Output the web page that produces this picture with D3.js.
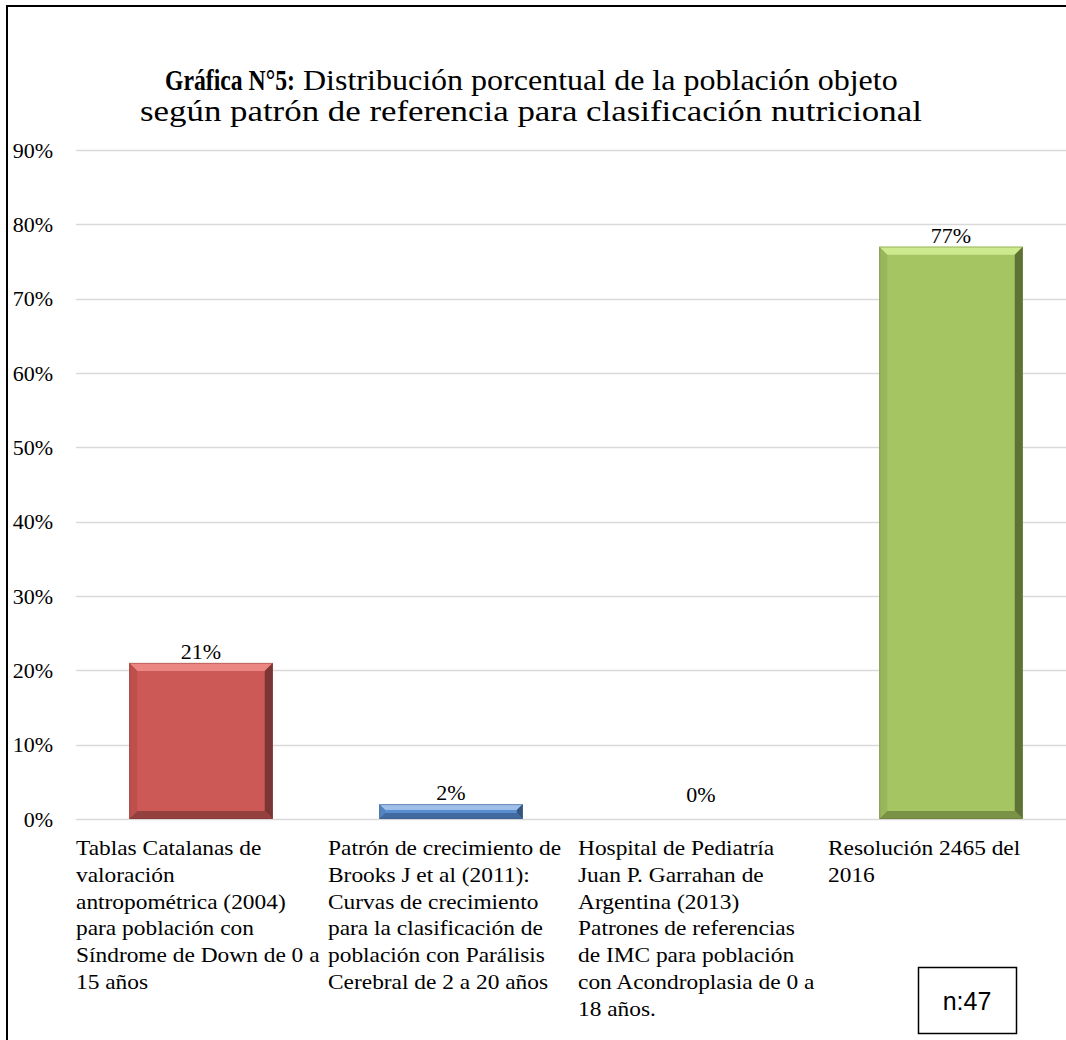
<!DOCTYPE html>
<html><head><meta charset="utf-8">
<script src="https://cdn.jsdelivr.net/npm/d3@7"></script>
<style>body{margin:0;background:#fff}svg{display:block}</style>
</head><body>
<script>
const categories = [
  ["Tablas Catalanas de","valoración","antropométrica (2004)","para población con","Síndrome de Down de 0 a","15 años"],
  ["Patrón de crecimiento de","Brooks J et al (2011):","Curvas de crecimiento","para la clasificación de","población con Parálisis","Cerebral de 2 a 20 años"],
  ["Hospital de Pediatría","Juan P. Garrahan de","Argentina (2013)","Patrones de referencias","de IMC para población","con Acondroplasia de 0 a","18 años."],
  ["Resolución 2465 del","2016"]
];
const values = [21, 2, 0, 77];
const yTicks = [0,10,20,30,40,50,60,70,80,90];
const titleBold = "Gráfica N°5:";
const titleRest = "Distribución porcentual de la población objeto";
const titleLine2 = "según patrón de referencia para clasificación nutricional";
const sampleNote = "n:47";

const barColors = [
  {face:"#CD5956", top:"#EC8683", left:"#BD504D", right:"#7A3634", bottom:"#94403E"},
  {face:"#5A8ED0", top:"#9DBFE8", left:"#5284C2", right:"#34557F", bottom:"#416A9E"},
  {face:"#A0A0A0", top:"#C0C0C0", left:"#909090", right:"#606060", bottom:"#707070"},
  {face:"#A5C563", top:"#CDEB8E", left:"#98B65B", right:"#5F7236", bottom:"#7A9245"}
];

const W = 1066, H = 1040;
const svg = d3.select("body").append("svg").attr("width", W).attr("height", H);
const serif = "'Liberation Serif','Times New Roman',serif";

// outer frame
svg.append("path").attr("d", `M7,${H} L7,6 L${W},6`).attr("fill","none").attr("stroke","#000").attr("stroke-width",2);

const x = d3.scaleBand().domain(d3.range(categories.length)).range([76, 1076]).paddingInner(0.426).paddingOuter(0.213);
const y = d3.scaleLinear().domain([0, 90]).range([819, 150]);

// gridlines
svg.append("g").selectAll("line").data(yTicks).join("line")
  .attr("x1", 76).attr("x2", W).attr("y1", d => Math.round(y(d))+0.5).attr("y2", d => Math.round(y(d))+0.5)
  .attr("stroke", "#D9D9D9").attr("stroke-width", 1.3);

// y axis labels
const yAxis = d3.axisLeft(y).tickValues(yTicks).tickFormat(d => d + "%").tickSize(0).tickPadding(0);
const ga = svg.append("g").attr("transform", "translate(53,0)").call(yAxis);
ga.select(".domain").remove();
ga.selectAll("text").attr("font-family", serif).attr("font-size", 22).attr("fill", "#000").attr("dy", "0.33em");

// bars with bevel
const bars = svg.append("g");
values.forEach((v, i) => {
  if (v <= 0) return;
  const x0 = x(i), x1 = x(i) + x.bandwidth(), y0 = y(v), y1 = y(0);
  const h = y1 - y0;
  const b = Math.min(8, h / 2.5);
  const c = barColors[i];
  const g = bars.append("g");
  g.append("rect").attr("x", x0).attr("y", y0).attr("width", x1 - x0).attr("height", h).attr("fill", c.face);
  g.append("polygon").attr("points", [[x0,y0],[x1,y0],[x1-b,y0+b],[x0+b,y0+b]].join(" ")).attr("fill", c.top);
  g.append("polygon").attr("points", [[x0,y0],[x0+b,y0+b],[x0+b,y1-b],[x0,y1]].join(" ")).attr("fill", c.left);
  g.append("polygon").attr("points", [[x1,y0],[x1,y1],[x1-b,y1-b],[x1-b,y0+b]].join(" ")).attr("fill", c.right);
  g.append("polygon").attr("points", [[x0,y1],[x1,y1],[x1-b,y1-b],[x0+b,y1-b]].join(" ")).attr("fill", c.bottom);
  g.append("rect").attr("x", x0+0.5).attr("y", y0+0.5).attr("width", x1-x0-1).attr("height", h-1)
    .attr("fill","none").attr("stroke", c.right).attr("stroke-opacity",0.4);
});

// value labels
svg.append("g").selectAll("text").data(values).join("text")
  .attr("x", (d, i) => x(i) + x.bandwidth()/2)
  .attr("y", d => Math.min(y(d) - 4, y(0) - 17))
  .attr("text-anchor", "middle").attr("font-family", serif).attr("font-size", 22).attr("fill", "#000")
  .text(d => d + "%");

// category labels
const step = x.step();
const cat = svg.append("g");
categories.forEach((lines, i) => {
  const x0 = x(i) - x.paddingOuter()*step + (i > 0 ? 2 : 0);
  const t = cat.append("text").attr("transform", `translate(${x0},0) scale(1.17,1)`)
    .attr("font-family", serif).attr("font-size", 20).attr("fill", "#000");
  lines.forEach((ln, j) => {
    t.append("tspan").attr("x", 0).attr("y", 855 + j*26.8).text(ln);
  });
});

// title: each piece fitted to its width in the reference via a horizontal scale
const title = svg.append("g").attr("font-family", serif).attr("font-size", 30).attr("fill", "#000");
function fitted(str, x0, yb, target, bold) {
  const t = title.append("text").attr("x", 0).attr("y", 0).text(str);
  if (bold) t.attr("font-weight", "bold");
  const len = t.node().getComputedTextLength();
  t.attr("transform", `translate(${x0},${yb}) scale(${target/len},1)`);
}
fitted(titleBold, 165, 90, 130, true);
fitted(titleRest, 303, 90, 595, false);
fitted(titleLine2, 140, 121, 782, false);

// n note box
svg.append("rect").attr("x", 918.5).attr("y", 967.5).attr("width", 98).attr("height", 66)
  .attr("fill","#fff").attr("stroke","#000").attr("stroke-width",1.5);
svg.append("text").attr("x", 967).attr("y", 1010).attr("text-anchor","middle")
  .attr("font-family","'Liberation Sans',Arial,sans-serif").attr("font-size", 25).attr("fill","#000").text(sampleNote);
</script>
</body></html>
